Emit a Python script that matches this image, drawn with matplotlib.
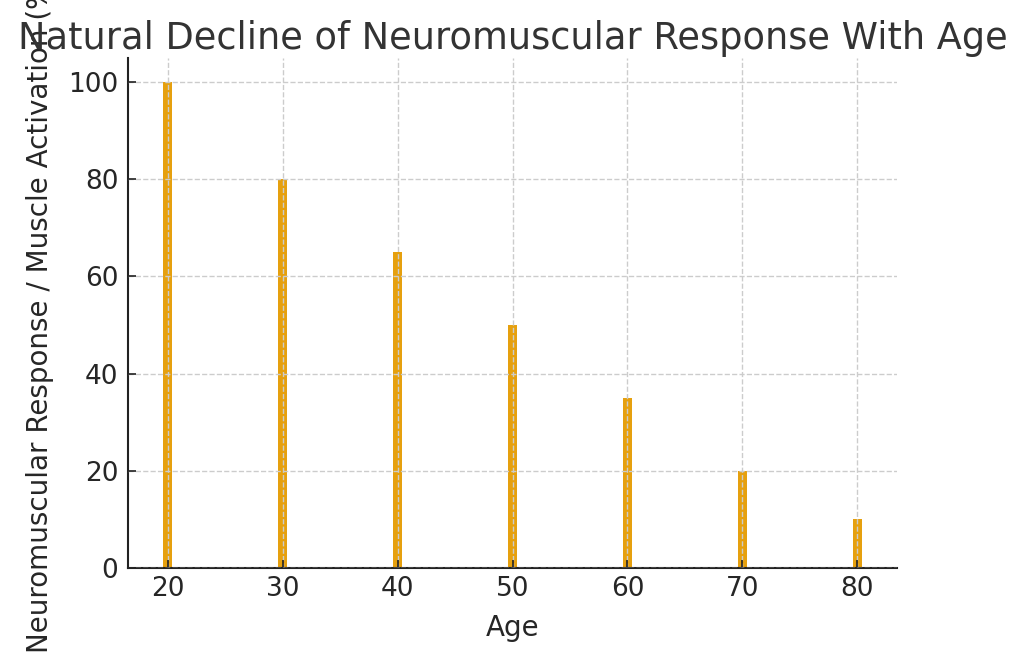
import matplotlib
matplotlib.use('Agg')
import matplotlib.pyplot as plt

# Data
ages = [20, 30, 40, 50, 60, 70, 80]
response = [100, 80, 65, 50, 35, 20, 10]

fig = plt.figure(figsize=(10.24, 6.56), dpi=100)
ax = fig.add_axes([0.125, 0.134, 0.751, 0.778])

ax.bar(ages, response, width=0.8, color='#e6a00e', zorder=1)

ax.set_title('Natural Decline of Neuromuscular Response With Age',
             fontsize=26.5, color='#333333', pad=6)
ax.set_xlabel('Age', fontsize=20, color='#262626', labelpad=8)
ax.set_ylabel('Neuromuscular Response / Muscle Activation (%)',
              fontsize=20, color='#262626', labelpad=10)

ax.set_yticks([0, 20, 40, 60, 80, 100])
ax.tick_params(direction='in', length=6, width=1.2, labelsize=19,
               labelcolor='#262626', color='#222222')
ax.tick_params(axis='y', pad=7)
ax.tick_params(axis='x', pad=6)
ax.grid(True, linestyle='--', color='#cccccc', linewidth=1, zorder=2)
ax.set_axisbelow(False)

for side in ['top', 'right']:
    ax.spines[side].set_visible(False)
for side in ['left', 'bottom']:
    ax.spines[side].set_linewidth(1.5)
    ax.spines[side].set_color('#222222')

fig.savefig('out.png', dpi=100)
